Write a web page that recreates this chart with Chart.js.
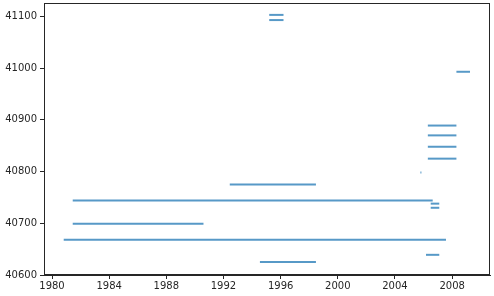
<!DOCTYPE html>
<html>
<head>
<meta charset="utf-8">
<script src="https://cdn.jsdelivr.net/npm/chart.js@4/dist/chart.umd.min.js"></script>
<style>
  html, body { margin: 0; padding: 0; background: #fff; }
  #wrap { width: 494px; height: 296px; }
</style>
</head>
<body>
<div id="wrap"><canvas id="chart" width="494" height="296"></canvas></div>
<script>
// each segment: a level (y) running from start year to end year
const levels = [41103, 41093, 40993, 40889, 40870, 40848, 40825, 40798, 40775, 40744, 40738, 40730, 40699, 40668, 40639, 40625];
const starts = [1995.2, 1995.2, 2008.3, 2006.3, 2006.3, 2006.3, 2006.3, 2005.78, 1992.44, 1981.45, 2006.5, 2006.5, 1981.45, 1980.82, 2006.17, 1994.55];
const ends   = [1996.2, 1996.2, 2009.25, 2008.3, 2008.3, 2008.3, 2008.3, 2005.85, 1998.47, 2006.64, 2007.1, 2007.1, 1990.6, 2007.57, 2007.1, 1998.47];

const xTicks = [1980, 1984, 1988, 1992, 1996, 2000, 2004, 2008];
const yTicks = [40600, 40700, 40800, 40900, 41000, 41100];

const lineColor = 'rgba(31,119,180,0.75)';
const axisColor = '#262626';

const datasets = levels.map((lvl, i) => ({
  data: [{ x: starts[i], y: lvl }, { x: ends[i], y: lvl }],
  borderColor: lineColor,
  borderWidth: 2,
  borderCapStyle: 'butt',
  pointRadius: 0,
  showLine: true,
  fill: false
}));

// draws the top and right spines too
const boxPlugin = {
  id: 'box',
  afterDraw(chart) {
    const { ctx, chartArea } = chart;
    ctx.save();
    ctx.strokeStyle = axisColor;
    ctx.lineWidth = 1;
    ctx.strokeRect(chartArea.left + 0.5, chartArea.top + 0.5,
      chartArea.right - chartArea.left - 1, chartArea.bottom - chartArea.top - 1);
    ctx.restore();
  }
};

new Chart(document.getElementById('chart'), {
  type: 'scatter',
  data: { datasets: datasets },
  options: {
    responsive: false,
    animation: false,
    layout: { padding: { top: 3, right: 4, left: 0, bottom: 0 } },
    plugins: { legend: { display: false }, tooltip: { enabled: false } },
    scales: {
      x: {
        type: 'linear',
        min: 1979.44,
        max: 2010.65,
        afterBuildTicks: scale => { scale.ticks = xTicks.map(v => ({ value: v })); },
        afterFit: scale => {
          scale.height = 21;
          scale.paddingLeft = 0;
          scale.paddingRight = 0;
        },
        grid: { drawOnChartArea: false, drawTicks: true, tickLength: 4, tickColor: axisColor },
        border: { color: axisColor },
        ticks: {
          color: axisColor,
          padding: 1,
          maxRotation: 0,
          autoSkip: false,
          font: { family: 'DejaVu Sans', size: 10 },
          callback: v => String(v)
        }
      },
      y: {
        type: 'linear',
        min: 40600,
        max: 41126,
        afterBuildTicks: scale => { scale.ticks = yTicks.map(v => ({ value: v })); },
        afterFit: scale => {
          scale.width = 44;
          scale.paddingTop = 0;
          scale.paddingBottom = 0;
        },
        grid: { drawOnChartArea: false, drawTicks: true, tickLength: 4, tickColor: axisColor },
        border: { color: axisColor },
        ticks: {
          color: axisColor,
          padding: 3,
          autoSkip: false,
          font: { family: 'DejaVu Sans', size: 10 },
          callback: v => String(v)
        }
      }
    }
  },
  plugins: [boxPlugin]
});
</script>
</body>
</html>
